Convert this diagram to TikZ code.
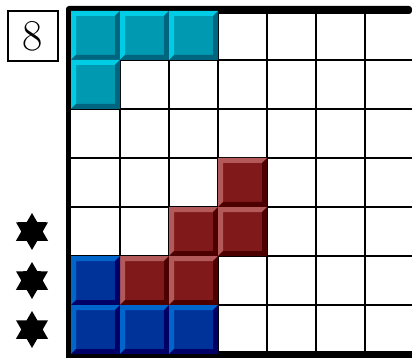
\documentclass[tikz,border=0pt]{standalone}
\usetikzlibrary{shapes.geometric}
\definecolor{cyanmain}{RGB}{0,153,178}
\definecolor{cyanlight}{RGB}{0,204,230}
\definecolor{cyandark}{RGB}{0,102,128}
\definecolor{redmain}{RGB}{128,26,26}
\definecolor{redlight}{RGB}{179,89,89}
\definecolor{reddark}{RGB}{77,0,0}
\definecolor{bluemain}{RGB}{0,51,153}
\definecolor{bluelight}{RGB}{0,102,204}
\definecolor{bluedark}{RGB}{0,0,102}
% one bevelled brick in column #1, row #2, colour family #3
\newcommand{\brick}[3]{%
  \pgfmathsetmacro{\bx}{22+49*#1}%
  \pgfmathsetmacro{\by}{-38+49*#2}%
  \fill[#3main] (\bx,\by) rectangle ++(49,49);
  \fill[#3light] (\bx,\by) -- ++(49,0) -- ++(-5,5) -- ++(-39,0) -- ++(0,39) -- ++(-5,5) -- cycle;
  \fill[#3dark] (\bx+49,\by+49) -- ++(-49,0) -- ++(5,-5) -- ++(39,0) -- ++(0,-39) -- ++(5,-5) -- cycle;
}
\begin{document}
\begin{tikzpicture}[
  x=1pt, y=-1pt,
  gridline/.style={line width=2.5pt, black},
  border/.style={fill=black},
  levelbox/.style={draw, line width=1.3pt, minimum width=50pt, minimum height=50pt, inner sep=0pt, font=\fontsize{44}{48}\selectfont},
  starmark/.style={star, star points=6, star point ratio=1.732, fill=black, minimum size=37pt, inner sep=0pt}
]
\useasboundingbox (0,0) rectangle (412,358);
\fill[white] (0,0) rectangle (412,358);

% grid
\foreach \c in {1,...,6}
  \draw[gridline] ({71+49*\c},11) -- ({71+49*\c},354);
\foreach \r in {1,...,6}
  \draw[gridline] (71,{11+49*\r}) -- (412,{11+49*\r});

% well border
\fill[border, rounded corners=3pt] (66,14) -- (66,6) -- (412,6) -- (412,14) -- cycle;
\fill[border] (66,10) rectangle (71,358);
\fill[border] (66,351) rectangle (412,358);

% pieces
\foreach \c/\r in {1/1, 2/1, 3/1, 1/2}
  {\brick{\c}{\r}{cyan}}
\foreach \c/\r in {4/4, 3/5, 4/5, 2/6, 3/6}
  {\brick{\c}{\r}{red}}
\foreach \c/\r in {1/6, 1/7, 2/7, 3/7}
  {\brick{\c}{\r}{blue}}

% level and markers
\node[levelbox] (level) at (33,36) {8};
\foreach \r in {5,6,7}
  \node[starmark] (star\r) at (32,{-13.5+49*\r}) {};
\end{tikzpicture}
\end{document}
